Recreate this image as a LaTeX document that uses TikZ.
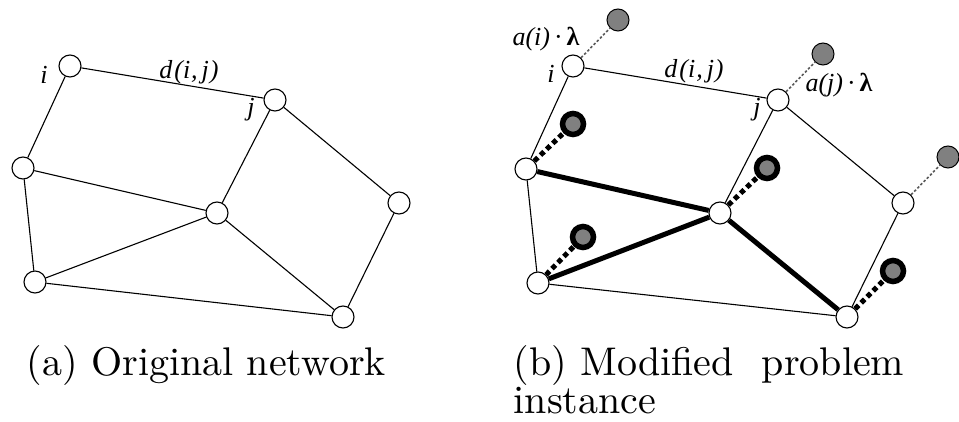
\documentclass[tikz,border=0pt]{standalone}
\usepackage{fontspec}
\newfontfamily\tms{Liberation Serif}
\tikzset{
  vtx/.style={circle, draw=black, fill=white, line width=1.1pt, minimum size=22pt, inner sep=0pt},
  gnode/.style={circle, draw=black, fill=black!50, line width=1pt, minimum size=22pt, inner sep=0pt},
  rnode/.style={circle, draw=black, fill=black!50, line width=5.5pt, minimum size=21pt, inner sep=0pt},
  thinedge/.style={line width=1.1pt},
  thickedge/.style={line width=5pt},
  thickdash/.style={line width=5pt, dash pattern=on 5pt off 3.5pt},
  thindot/.style={line width=1.6pt, black!65, dash pattern=on 2.5pt off 2pt},
  lbl/.style={inner sep=0pt, font=\fontsize{26}{26}\tms\itshape},
  captxt/.style={inner sep=0pt, anchor=base west, scale=4, font=\fontsize{10}{9.5}\selectfont}
}
\begin{document}
\begin{tikzpicture}[x=1pt, y=-1pt]
\fill[white] (0,0) rectangle (959,422);
\useasboundingbox (0,0) rectangle (959,422);

% ---- (a) original network ----
\node[vtx] (ai) at (70,66) {};
\node[vtx] (aj) at (275,100) {};
\node[vtx] (aA) at (23,168) {};
\node[vtx] (aC) at (217,213) {};
\node[vtx] (aR) at (399,203) {};
\node[vtx] (aBL) at (35,282) {};
\node[vtx] (aBR) at (343,317) {};
\draw[thinedge] (ai) -- (aj);
\draw[thinedge] (ai) -- (aA);
\draw[thinedge] (aj) -- (aC);
\draw[thinedge] (aj) -- (aR);
\draw[thinedge] (aA) -- (aC);
\draw[thinedge] (aA) -- (aBL);
\draw[thinedge] (aBL) -- (aC);
\draw[thinedge] (aBL) -- (aBR);
\draw[thinedge] (aC) -- (aBR);
\draw[thinedge] (aR) -- (aBR);
\node[lbl] (ali) at (44,75) {i};
\node[lbl] (alj) at (251,110) {j};
\node[lbl] (ald) at (189,72) {d\kern2pt(i\kern1pt,\kern4pt j\kern1pt)};

% ---- (b) modified problem instance ----
\node[vtx] (bi) at (573,66) {};
\node[vtx] (bj) at (778,100) {};
\node[vtx] (bA) at (526,169) {};
\node[vtx] (bC) at (720,213) {};
\node[vtx] (bR) at (903,203) {};
\node[vtx] (bBL) at (538,283) {};
\node[vtx] (bBR) at (847,317) {};
\draw[thinedge] (bi) -- (bj);
\draw[thinedge] (bi) -- (bA);
\draw[thinedge] (bj) -- (bC);
\draw[thinedge] (bj) -- (bR);
\draw[thickedge] (bA) -- (bC);
\draw[thinedge] (bA) -- (bBL);
\draw[thickedge] (bBL) -- (bC);
\draw[thinedge] (bBL) -- (bBR);
\draw[thickedge] (bC) -- (bBR);
\draw[thinedge] (bR) -- (bBR);

\node[gnode] (gi) at (618,20) {};
\node[gnode] (gj) at (823,54) {};
\node[gnode] (gR) at (948,157) {};
\draw[thindot] (bi) -- (gi);
\draw[thindot] (bj) -- (gj);
\draw[thindot] (bR) -- (gR);

\node[rnode] (rA) at (573,124) {};
\node[rnode] (rC) at (767,168) {};
\node[rnode] (rBL) at (583,237) {};
\node[rnode] (rBR) at (893,271) {};
\draw[thickdash] (bA) -- (rA);
\draw[thickdash] (bC) -- (rC);
\draw[thickdash] (bBL) -- (rBL);
\draw[thickdash] (bBR) -- (rBR);

\node[lbl] (bli) at (551,74) {i};
\node[lbl] (blj) at (757,110) {j};
\node[lbl] (bld) at (694,71) {d\kern2pt(i\kern1pt,\kern4pt j\kern1pt)};
\node[lbl] (blai) at (546,39) {a(i)\kern4pt{\upshape·}\kern4pt{\upshape\bfseries λ}};
\node[lbl] (blaj) at (839,85) {a(j)\kern4pt{\upshape·}\kern4pt{\upshape\bfseries λ}};

% ---- captions ----
\node[captxt] (capa) at (26,375) {(a) Original network};
\node[captxt] (capb1) at (513,375) {(b) Modified\hspace{7pt}problem};
\node[captxt] (capb2) at (513,413) {instance};
\end{tikzpicture}
\end{document}
